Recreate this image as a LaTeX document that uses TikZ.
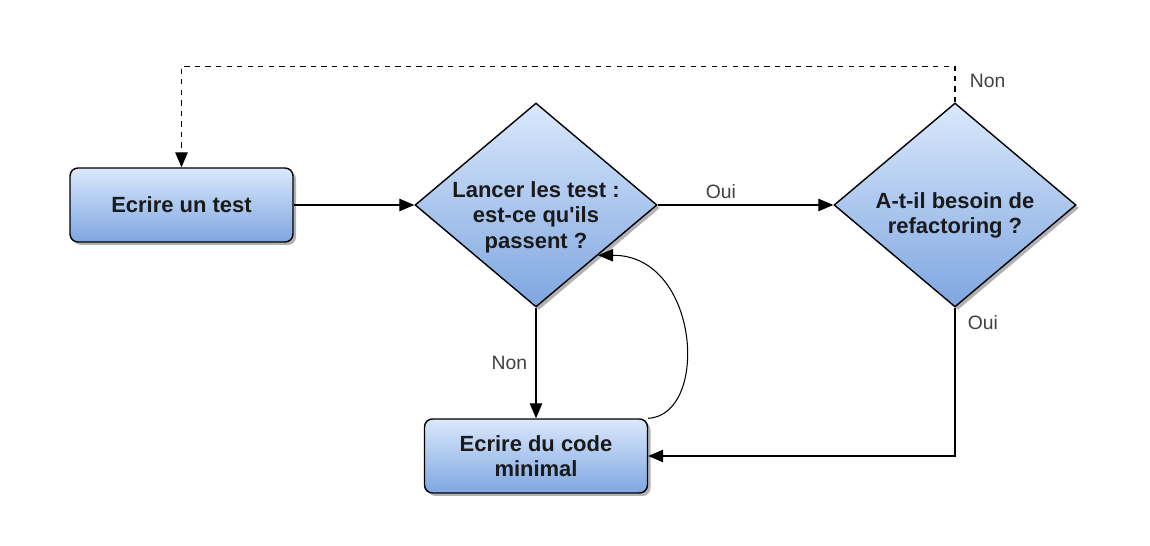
\documentclass[tikz,border=0pt]{standalone}
\usepackage{fontspec}
\setmainfont{Liberation Sans}
\usetikzlibrary{shapes.geometric,arrows.meta,shadows}
\definecolor{boxtop}{HTML}{DAE8FC}
\definecolor{boxbottom}{HTML}{7EA6E0}
\definecolor{nodetext}{HTML}{1A1A1A}
\definecolor{labelgray}{HTML}{404040}
\begin{document}
\begin{tikzpicture}
\useasboundingbox (0,0) rectangle (23,-10.92);
% Set styles for Step and Test nodes
\tikzstyle{Step}=[rectangle,rounded corners=0.16cm,draw=black,line width=0.8pt,top color=boxtop,bottom color=boxbottom,drop shadow={shadow xshift=0.06cm,shadow yshift=-0.06cm,opacity=0.3,fill=black},text=nodetext,font=\fontsize{12.5}{14.5}\selectfont\bfseries,align=center,minimum width=4.46cm,minimum height=1.48cm]
\tikzstyle{Test}=[diamond,shape aspect=1.2,draw=black,line width=0.8pt,top color=boxtop,bottom color=boxbottom,drop shadow={shadow xshift=0.06cm,shadow yshift=-0.06cm,opacity=0.3,fill=black},text=nodetext,font=\fontsize{12.5}{14.5}\selectfont\bfseries,align=center,inner xsep=-0.8cm,inner ysep=-0.2cm,minimum width=4.84cm,minimum height=4.08cm]
\tikzstyle{Arrow}=[-{Triangle[length=0.3cm,width=0.25cm]},line width=0.6pt,draw=black]
\tikzstyle{Label}=[text=labelgray,font=\fontsize{11}{13}\selectfont]
% Nodes
\foreach [count=\i] \x/\y/\t/\n in {
    3.63/-4.10/Ecrire un test/Step,
    10.72/-4.10/{\rule{0pt}{0.8cm}Lancer les test :\\est-ce qu\textquotesingle ils\\passent ?}/Test,
    19.10/-4.10/{\rule{0pt}{0.74cm}A-t-il besoin de\\refactoring ?}/Test,
    10.72/-9.12/{Ecrire du code\\minimal}/Step}
  \node[\n] at (\x,\y) (v\i) {\t};
% Edges
\draw[Arrow] (v1) -- (v2);
\draw[Arrow] (v2) -- node[Label,above,pos=0.36] {Oui} (v3);
\draw[Arrow] (v2.south) -- node[Label,left,xshift=-0.05cm] {Non} (v4.north);
\draw[Arrow] (v3.south) |- node[Label,right,pos=0.05,xshift=0.13cm] {Oui} (v4.east);
\draw[Arrow,dashed] (v3.north) -- ++(0,0.72) node[Label,right,midway,xshift=0.17cm,yshift=0.06cm] {Non} -| (v1.north);
\draw[Arrow] (v4.north east) .. controls (14.2,-8.3) and (14.0,-5.1) .. (v2.-39);
\end{tikzpicture}
\end{document}
